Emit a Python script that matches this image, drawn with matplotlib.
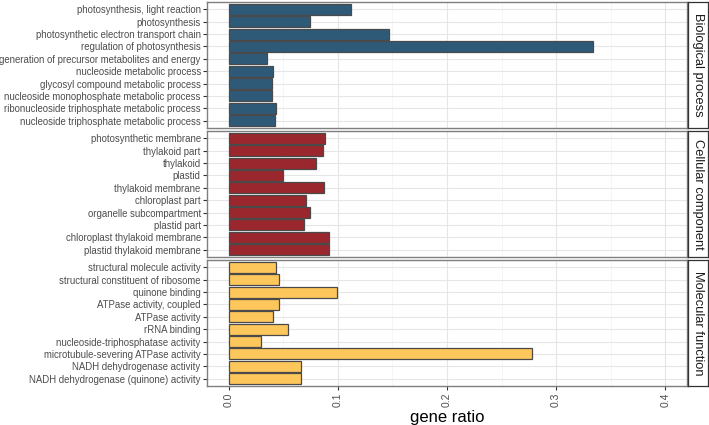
import matplotlib.pyplot as plt
import numpy as np

plt.rcParams['font.family'] = ['Liberation Sans', 'DejaVu Sans']

# GO terms per category (top to bottom as shown)
bp_terms = ["photosynthesis, light reaction", "photosynthesis",
            "photosynthetic electron transport chain", "regulation of photosynthesis",
            "generation of precursor metabolites and energy", "nucleoside metabolic process",
            "glycosyl compound metabolic process", "nucleoside monophosphate metabolic process",
            "ribonucleoside triphosphate metabolic process", "nucleoside triphosphate metabolic process"]
bp_ratio = [0.112, 0.0746, 0.147, 0.334, 0.0346, 0.0404, 0.0400, 0.0400, 0.0437, 0.0425]

cc_terms = ["photosynthetic membrane", "thylakoid part", "thylakoid", "plastid",
            "thylakoid membrane", "chloroplast part", "organelle subcompartment",
            "plastid part", "chloroplast thylakoid membrane", "plastid thylakoid membrane"]
cc_ratio = [0.0881, 0.0862, 0.0795, 0.0495, 0.0875, 0.0703, 0.0743, 0.0688, 0.0917, 0.0914]

mf_terms = ["structural molecule activity", "structural constituent of ribosome",
            "quinone binding", "ATPase activity, coupled", "ATPase activity", "rRNA binding",
            "nucleoside-triphosphatase activity", "microtubule-severing ATPase activity",
            "NADH dehydrogenase activity", "NADH dehydrogenase (quinone) activity"]
mf_ratio = [0.0428, 0.0456, 0.0994, 0.0462, 0.0404, 0.0541, 0.0297, 0.278, 0.0664, 0.0664]

panels = [("Biological process", bp_terms, bp_ratio, "#2E5A78"),
          ("Cellular component", cc_terms, cc_ratio, "#9A272D"),
          ("Molecular function", mf_terms, mf_ratio, "#FEC75C")]

W, H = 709, 425
fig = plt.figure(figsize=(W / 100, H / 100), dpi=100)

left, right = 207, 687
strip_w = 20
tops = [2, 131, 260]
ph = 126

xticks = [0.0, 0.1, 0.2, 0.3, 0.4]
for i, (name, terms, vals, col) in enumerate(panels):
    top = tops[i]
    ax = fig.add_axes([left / W, 1 - (top + ph) / H, (right - left) / W, ph / H])
    n = len(terms)
    y = np.arange(n)[::-1] + 1
    for m in np.arange(0.05, 0.45, 0.1):
        ax.axvline(m, color="#f2f2f2", lw=0.5, zorder=0)
    for t in xticks:
        ax.axvline(t, color="#e6e6e6", lw=0.8, zorder=0)
    for yy in y:
        ax.axhline(yy, color="#e6e6e6", lw=0.8, zorder=0)
    ax.barh(y, vals, height=0.9, color=col, edgecolor="#4a4a4a", linewidth=0.9, zorder=2)
    ax.set_xlim(-0.02, 0.42)
    ax.set_ylim(0.4, n + 0.6)
    ax.set_yticks(y)
    ax.set_yticklabels(terms, fontsize=6.9, color="#4d4d4d")
    ax.set_xticks(xticks)
    if i == 2:
        ax.set_xticklabels(["0.0", "0.1", "0.2", "0.3", "0.4"], rotation=90,
                           fontsize=7.5, color="#4d4d4d")
        ax.set_xlabel("gene ratio", fontsize=12, labelpad=2)
    else:
        ax.set_xticklabels([])
    ax.tick_params(axis="both", color="#333333", width=0.8, length=3, pad=1.5)
    if i < 2:
        ax.tick_params(axis="x", length=0)
    for s in ax.spines.values():
        s.set_color("#7f7f7f")
        s.set_linewidth(1.0)

    sax = fig.add_axes([(right + 1) / W, 1 - (top + ph) / H, strip_w / W, ph / H])
    sax.set_xticks([])
    sax.set_yticks([])
    for s in sax.spines.values():
        s.set_color("#333333")
        s.set_linewidth(0.9)
    sax.text(0.5, 0.5, name, rotation=-90, ha="center", va="center",
             fontsize=9.3, color="#1a1a1a", transform=sax.transAxes)

fig.savefig("out.png", dpi=100)
